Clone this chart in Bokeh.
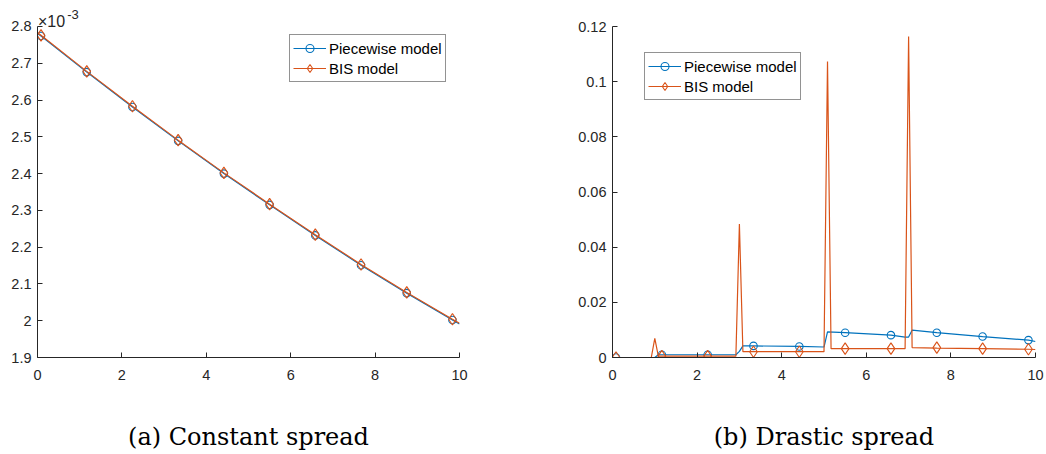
from bokeh.plotting import figure
from bokeh.layouts import row
from bokeh.models import (Range1d, FixedTicker, CustomJSTickFormatter, Legend,
                          LegendItem, Label)
from bokeh.embed import file_html
from bokeh.resources import INLINE

# ---------------- data ----------------
# (a) Constant spread  (values in units of 1e-3)
const_x = [0.0, 0.083, 1.167, 2.25, 3.333, 4.417, 5.5, 6.583, 7.667, 8.75, 9.833, 10.0]
const_piecewise = [2.781, 2.774, 2.676, 2.581, 2.489, 2.400, 2.315, 2.232, 2.151, 2.075, 2.002, 1.991]
const_bis = [2.783, 2.776, 2.678, 2.583, 2.491, 2.402, 2.317, 2.234, 2.153, 2.077, 2.004, 1.993]
const_marker_x = [0.083, 1.167, 2.25, 3.333, 4.417, 5.5, 6.583, 7.667, 8.75, 9.833]
const_marker_piecewise = [2.774, 2.676, 2.581, 2.489, 2.400, 2.315, 2.232, 2.151, 2.075, 2.002]
const_marker_bis = [2.776, 2.678, 2.583, 2.491, 2.402, 2.317, 2.234, 2.153, 2.077, 2.004]

# (b) Drastic spread
drastic_piecewise_x = [0.0, 0.083, 1.0, 1.083, 1.167, 2.25, 2.917, 3.0, 3.083, 3.333, 4.417,
                       5.0, 5.083, 5.5, 6.583, 6.917, 7.0, 7.083, 7.667, 8.75, 9.833, 10.0]
drastic_piecewise_y = [0.0, 0.0, 0.0, 0.0010, 0.0010, 0.0010, 0.0010, 0.0022, 0.0042, 0.0042, 0.0040,
                       0.0038, 0.0093, 0.0090, 0.0081, 0.0074, 0.0074, 0.0099, 0.0090, 0.0076, 0.0063, 0.0058]
drastic_bis_x = [0.0, 0.083, 0.917, 1.0, 1.083, 1.167, 2.25, 2.917, 3.0, 3.083, 3.333, 4.417,
                 5.0, 5.083, 5.167, 5.5, 6.583, 6.917, 7.0, 7.083, 7.667, 8.75, 9.833, 10.0]
drastic_bis_y = [0.0, 0.0, 0.0, 0.0069, 0.0005, 0.0005, 0.0005, 0.0005, 0.0484, 0.0021, 0.0021, 0.0021,
                 0.0021, 0.1073, 0.0032, 0.0032, 0.0032, 0.0032, 0.1164, 0.0036, 0.0034, 0.0032, 0.0030, 0.0029]
drastic_marker_x = [0.083, 1.167, 2.25, 3.333, 4.417, 5.5, 6.583, 7.667, 8.75, 9.833]
drastic_marker_piecewise = [0.0, 0.0010, 0.0010, 0.0042, 0.0040, 0.0090, 0.0081, 0.0090, 0.0076, 0.0063]
drastic_marker_bis = [0.0, 0.0005, 0.0005, 0.0021, 0.0021, 0.0032, 0.0032, 0.0036, 0.0032, 0.0030]

x_ticks = [0, 2, 4, 6, 8, 10]
const_y_ticks = [1.9, 2.0, 2.1, 2.2, 2.3, 2.4, 2.5, 2.6, 2.7, 2.8]
drastic_y_ticks = [0, 0.02, 0.04, 0.06, 0.08, 0.1, 0.12]
series_names = ["Piecewise model", "BIS model"]
captions = ["(a) Constant spread", "(b) Drastic spread"]
scale_text = ["×10", "-3"]

BLUE = "#0072BD"
ORANGE = "#D95319"
AX = "#262626"
FONT = "Liberation Sans"
CAP_FONT = "DejaVu Serif"

fmt = CustomJSTickFormatter(code="return String(Number(tick.toFixed(6)));")
TOP = 4
FH = 353   # frame height; the top 22 px above the highest tick are left free


def make_fig(width, left, frame_w, yr, ybounds, yticks, caption):
    p = figure(width=width, height=450, frame_width=frame_w, frame_height=FH,
               min_border_left=left, min_border_top=TOP, min_border_bottom=80,
               min_border_right=width - left - frame_w,
               x_range=Range1d(0, 10), y_range=Range1d(*yr),
               output_backend="svg", toolbar_location=None)
    p.grid.visible = False
    p.outline_line_color = None
    p.background_fill_color = "white"
    p.border_fill_color = "white"
    p.xaxis.ticker = FixedTicker(ticks=x_ticks)
    p.yaxis.ticker = FixedTicker(ticks=yticks)
    p.yaxis.bounds = ybounds
    for ax in (p.xaxis[0], p.yaxis[0]):
        ax.formatter = fmt
        ax.axis_line_color = AX
        ax.axis_line_width = 1
        ax.major_tick_line_color = AX
        ax.major_tick_in = 5
        ax.major_tick_out = 0
        ax.minor_tick_line_color = None
        ax.major_label_text_font = FONT
        ax.major_label_text_font_size = "14.5px"
        ax.major_label_text_color = AX
    p.xaxis.major_label_standoff = 12
    p.yaxis.major_label_standoff = 6
    p.xaxis.axis_label = caption
    p.xaxis.axis_label_text_font = CAP_FONT
    p.xaxis.axis_label_text_font_size = "24px"
    p.xaxis.axis_label_text_font_style = "normal"
    p.xaxis.axis_label_text_color = "black"
    p.xaxis.axis_label_standoff = 40
    return p


def add_series(p, lx1, ly1, lx2, ly2, mx, my1, my2, loc):
    l1 = p.line(lx1, ly1, line_color=BLUE, line_width=1.2)
    s1 = p.scatter(mx, my1, marker="circle", size=7.5, fill_color=None,
                   line_color=BLUE, line_width=1.1)
    l2 = p.line(lx2, ly2, line_color=ORANGE, line_width=1.2)
    s2 = p.scatter(mx, my2, marker="diamond", size=11.5, fill_color=None,
                   line_color=ORANGE, line_width=1.1)
    leg = Legend(items=[LegendItem(label=series_names[0], renderers=[l1, s1]),
                        LegendItem(label=series_names[1], renderers=[l2, s2])],
                 location=loc, orientation="vertical",
                 border_line_color=AX, border_line_width=1,
                 background_fill_color="white", background_fill_alpha=1,
                 padding=3, spacing=0, margin=0,
                 glyph_width=33, glyph_height=20, label_height=20,
                 label_standoff=3,
                 label_text_font=FONT, label_text_font_size="15px",
                 label_text_color="black")
    p.add_layout(leg, "center")


# (a)  frame reaches above 2.8 so the x10^-3 note fits in it; the axis is bounded at 2.8
p1 = make_fig(532, 37, 422, (1.9, 2.8598), (1.9, 2.8), const_y_ticks, captions[0])
add_series(p1, const_x, const_piecewise, const_x, const_bis,
           const_marker_x, const_marker_piecewise, const_marker_bis, (252, 275))
p1.add_layout(Label(x=0.5, y=336, x_units="screen", y_units="screen", text=scale_text[0],
                    text_font=FONT, text_font_size="16px", text_color=AX,
                    text_baseline="alphabetic"))
p1.add_layout(Label(x=29.7, y=343, x_units="screen", y_units="screen", text=scale_text[1],
                    text_font=FONT, text_font_size="13px", text_color=AX,
                    text_baseline="alphabetic"))

# (b)
p2 = make_fig(512, 80, 423, (0, 0.12798), (0, 0.12), drastic_y_ticks, captions[1])
add_series(p2, drastic_piecewise_x, drastic_piecewise_y, drastic_bis_x, drastic_bis_y,
           drastic_marker_x, drastic_marker_piecewise, drastic_marker_bis, (32, 257))

layout = row(p1, p2, spacing=0)
open("out.html", "w").write(file_html(layout, INLINE))
